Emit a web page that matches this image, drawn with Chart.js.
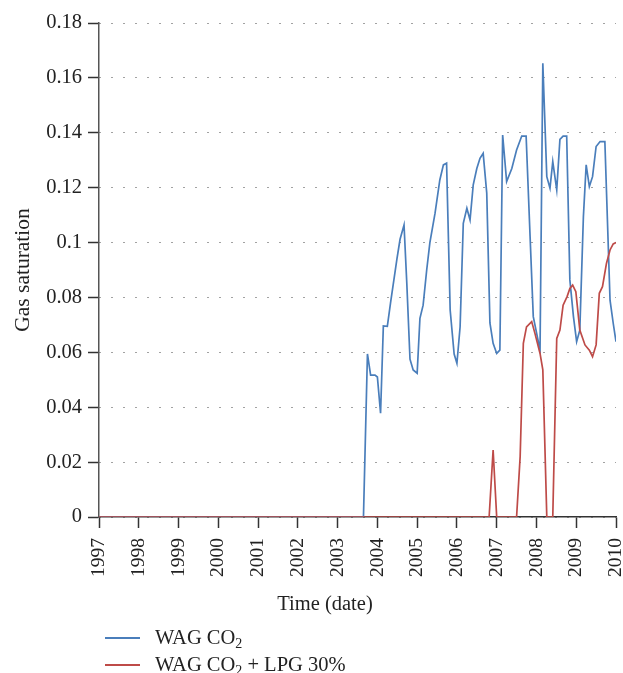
<!DOCTYPE html>
<html>
<head>
<meta charset="utf-8">
<script src="https://cdn.jsdelivr.net/npm/chart.js@4.4.0/dist/chart.umd.min.js"></script>
<style>
  html, body { margin: 0; padding: 0; background: #fff; }
  #wrap { position: relative; width: 623px; height: 673px; }
  canvas { position: absolute; left: 0; top: 0; }
  .serif { font-family: "Liberation Serif", "DejaVu Serif", serif; color: #222; }
  .leg { position: absolute; left: 105px; height: 0; font-size: 20.5px; }
  .leg .ln { position: absolute; left: 0; top: -1px; width: 35px; height: 1.5px; }
  .leg .tx { position: absolute; left: 50px; top: -12px; white-space: nowrap; line-height: 22px; }
  .leg sub { font-size: 14px; vertical-align: -4px; line-height: 0; }
  #xtitle { position: absolute; left: 225px; width: 200px; top: 591px; text-align: center; font-size: 20.5px; line-height: 24px; white-space: nowrap; }
</style>
</head>
<body>
<div id="wrap">
  <canvas id="c" width="623" height="673"></canvas>
  <div id="xtitle" class="serif">Time (date)</div>
  <div class="leg serif" style="top:638px"><div class="ln" style="background:#4a7ebb"></div><div class="tx">WAG CO<sub>2</sub></div></div>
  <div class="leg serif" style="top:665px"><div class="ln" style="background:#be4b48"></div><div class="tx">WAG CO<sub>2</sub> + LPG 30%</div></div>
</div>
<script>
// ---- data ----
const xTicks = [1997,1998,1999,2000,2001,2002,2003,2004,2005,2006,2007,2008,2009,2010];
const yTicks = [0,0.02,0.04,0.06,0.08,0.1,0.12,0.14,0.16,0.18];

const wagCO2Time = [1997,2003.65,2003.75,2003.83,2003.94,2004.0,2004.08,2004.15,2004.25,2004.33,2004.49,2004.57,2004.67,2004.74,2004.82,2004.90,2005.0,2005.07,2005.15,2005.24,2005.32,2005.45,2005.57,2005.66,2005.74,2005.83,2005.93,2006.0,2006.08,2006.16,2006.25,2006.33,2006.41,2006.5,2006.58,2006.66,2006.75,2006.83,2006.91,2007.0,2007.08,2007.15,2007.25,2007.38,2007.5,2007.63,2007.74,2007.84,2007.92,2008.09,2008.16,2008.26,2008.34,2008.41,2008.51,2008.59,2008.67,2008.76,2008.84,2008.93,2009.01,2009.09,2009.18,2009.25,2009.33,2009.41,2009.5,2009.6,2009.72,2009.85,2009.93,2010.0];
const wagCO2Sat = [0,0,0.0594,0.0517,0.0517,0.051,0.0378,0.0696,0.0695,0.0779,0.0939,0.1012,0.1064,0.0851,0.0575,0.0536,0.0524,0.0724,0.0772,0.090,0.100,0.1107,0.1228,0.1283,0.1289,0.0754,0.0594,0.056,0.0693,0.107,0.1125,0.1082,0.121,0.127,0.1307,0.1325,0.118,0.0707,0.0633,0.0596,0.0608,0.1392,0.1222,0.127,0.1337,0.1388,0.1388,0.1021,0.073,0.0608,0.1653,0.124,0.1198,0.1295,0.1192,0.1376,0.1388,0.1388,0.0864,0.073,0.0639,0.0681,0.1094,0.1283,0.1204,0.124,0.135,0.1368,0.1368,0.079,0.0706,0.0639];

const wagLPGTime = [1997,2006.81,2006.91,2007.0,2007.5,2007.59,2007.67,2007.75,2007.88,2007.96,2008.09,2008.16,2008.26,2008.41,2008.51,2008.59,2008.67,2008.77,2008.84,2008.91,2008.99,2009.09,2009.22,2009.33,2009.41,2009.5,2009.58,2009.66,2009.76,2009.85,2009.93,2010.0];
const wagLPGSat = [0,0,0.0244,0,0,0.022,0.0633,0.0693,0.0712,0.067,0.0596,0.0536,0,0,0.0651,0.0681,0.0772,0.0803,0.0833,0.0845,0.0821,0.0681,0.0627,0.0608,0.0584,0.0627,0.0815,0.0839,0.0924,0.0973,0.0995,0.1];

const seriesNames = ['WAG CO\u2082', 'WAG CO\u2082 + LPG 30%'];

// ---- build ----
const toPts = (xs, ys) => xs.map((x, i) => ({x: x, y: ys[i]}));
const FAM = '"Liberation Serif", "DejaVu Serif", serif';

new Chart(document.getElementById('c'), {
  type: 'line',
  data: {
    datasets: [
      { label: seriesNames[1], data: toPts(wagLPGTime, wagLPGSat), borderColor: '#be4b48', borderWidth: 1.7, pointRadius: 0, tension: 0, fill: false },
      { label: seriesNames[0], data: toPts(wagCO2Time, wagCO2Sat), borderColor: '#4a7ebb', borderWidth: 1.7, pointRadius: 0, tension: 0, fill: false }
    ]
  },
  options: {
    responsive: false,
    animation: false,
    events: [],
    layout: { padding: { top: 23, right: 7, bottom: 58, left: 0 } },
    plugins: { legend: { display: false }, tooltip: { enabled: false } },
    scales: {
      x: {
        type: 'linear',
        min: xTicks[0], max: xTicks[xTicks.length - 1],
        afterBuildTicks: s => { s.ticks = xTicks.map(v => ({value: v})); },
        afterFit: s => { s.height = 98; s.paddingLeft = 0; s.paddingRight = 0; },
        ticks: { autoSkip: false, minRotation: 90, maxRotation: 90, padding: 10, color: '#222', font: {family: FAM, size: 19.5}, callback: v => String(v) },
        grid: { drawOnChartArea: false, drawTicks: true, tickLength: 11, tickColor: '#333', tickWidth: 1.5 },
        border: { display: true, color: '#333', width: 1.5 },
        title: { display: false }
      },
      y: {
        type: 'linear',
        min: yTicks[0], max: yTicks[yTicks.length - 1],
        afterBuildTicks: s => { s.ticks = yTicks.map(v => ({value: v})); },
        afterFit: s => { s.width = 99; s.paddingTop = 0; s.paddingBottom = 0; },
        ticks: { autoSkip: false, padding: 6, color: '#222', font: {family: FAM, size: 20.5}, callback: v => String(v) },
        grid: { drawOnChartArea: true, drawTicks: true, tickLength: 11, color: '#444', lineWidth: 1, tickColor: '#333', tickWidth: 1.5 },
        border: { display: true, color: '#555', width: 1.5, dash: [1, 11] },
        title: { display: true, text: 'Gas saturation', color: '#222', font: {family: FAM, size: 21.5}, padding: { top: 10, bottom: 4 } }
      }
    }
  }
});
</script>
</body>
</html>
